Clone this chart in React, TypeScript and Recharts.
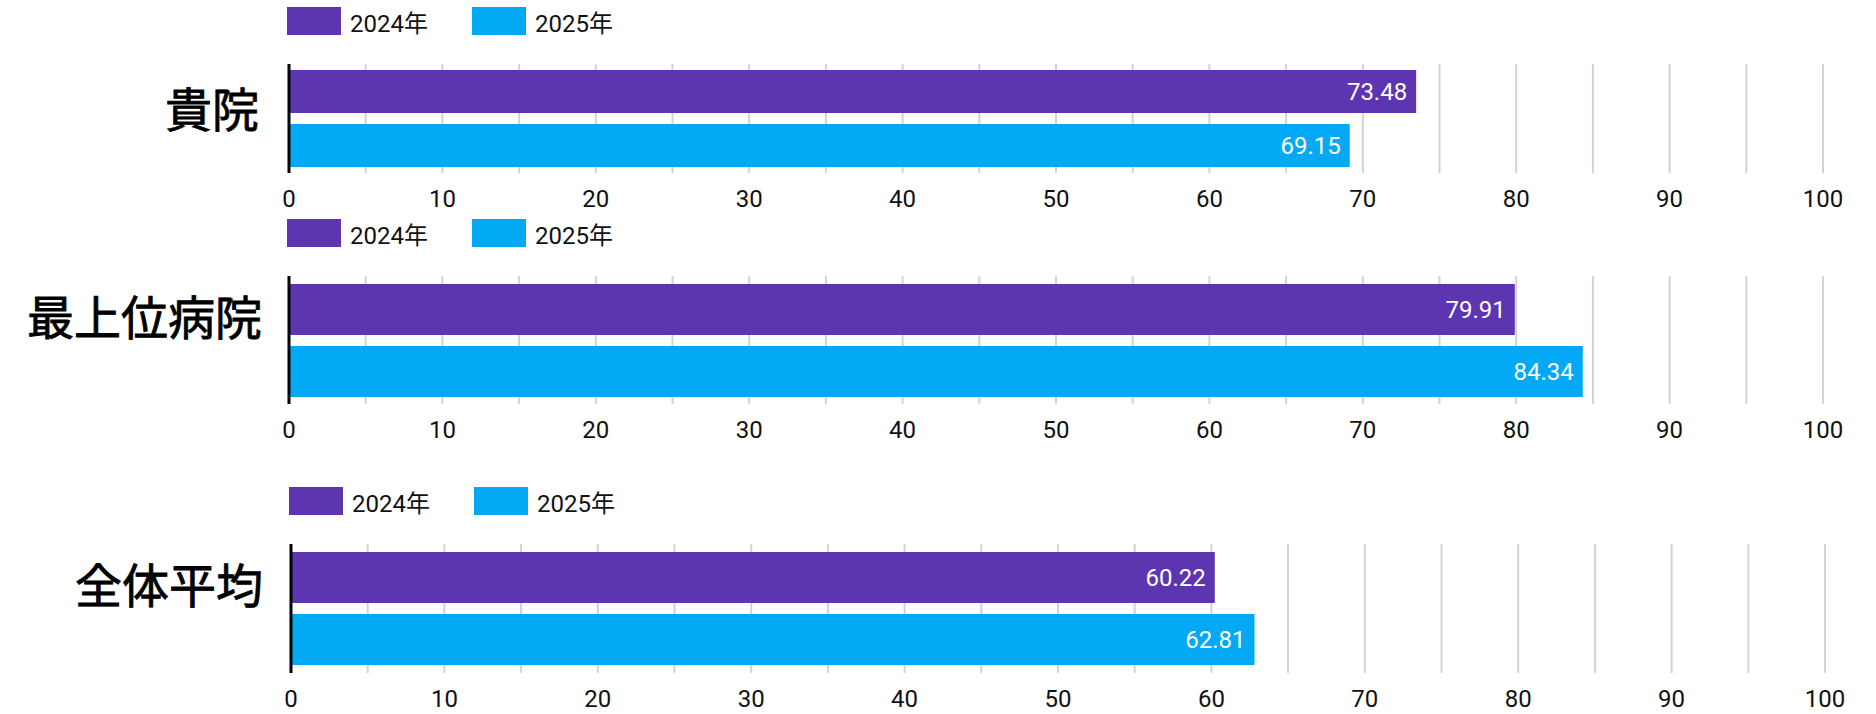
import { Bar, BarChart, CartesianGrid, LabelList, Legend, XAxis, YAxis } from "recharts";

const categories = ["貴院", "最上位病院", "全体平均"];
const values2024 = [73.48, 79.91, 60.22];
const values2025 = [69.15, 84.34, 62.81];
const seriesNames = ["2024年", "2025年"];
const xTicks = [0, 10, 20, 30, 40, 50, 60, 70, 80, 90, 100];
const gridValues = [5, 10, 15, 20, 25, 30, 35, 40, 45, 50, 55, 60, 65, 70, 75, 80, 85, 90, 95, 100];

const COLOR_2024 = "#5E35B1";
const COLOR_2025 = "#03A9F4";
const seriesColors = [COLOR_2024, COLOR_2025];
const FONT = "Roboto, 'Noto Sans CJK JP', sans-serif";

const PAGE_W = 1876;
const AXIS_X = 289; // x of the zero line inside each chart
const PLOT_RIGHT = 1823; // x of 100 inside each chart
const PLOT_TOP = 64;
const LEGEND_H = 28;
const XAXIS_H = 40;

type PanelLayout = {
  top: number;
  left: number;
  plotH: number;
  pad: number;
  labelDy: number;
  labelGap: number;
};

const panels: PanelLayout[] = [
  { top: 0, left: 0, plotH: 109, pad: 6, labelDy: -8, labelGap: 30 },
  { top: 212, left: 0, plotH: 128, pad: 8, labelDy: -22, labelGap: 27 },
  { top: 480, left: 2, plotH: 129, pad: 8, labelDy: -22, labelGap: 28 },
];

function YearLegend() {
  return (
    <div style={{ display: "flex", alignItems: "center", height: LEGEND_H, fontSize: 24, color: "#111" }}>
      {seriesNames.map((name, i) => (
        <div key={name} style={{ display: "flex", alignItems: "center", marginRight: 44 }}>
          <span style={{ display: "inline-block", width: 54, height: LEGEND_H, background: seriesColors[i], marginRight: 9 }} />
          <span>{name}</span>
        </div>
      ))}
    </div>
  );
}

// big category label left of the axis; a thin stroke gives it the medium weight of the original
const hospitalTick = (dy: number) => (props: any) => {
  const { x, y, payload } = props;
  return (
    <text
      x={x}
      y={y + dy}
      textAnchor="end"
      dominantBaseline="central"
      fontSize={47}
      fontWeight={400}
      fill="#000"
      stroke="#000"
      strokeWidth={0.8}
    >
      {payload.value}
    </text>
  );
};

function Panel({ index, layout }: { index: number; layout: PanelLayout }) {
  const width = PAGE_W - layout.left;
  const height = PLOT_TOP + layout.plotH + XAXIS_H;
  const data = [{ name: categories[index], y2024: values2024[index], y2025: values2025[index] }];

  return (
    <div style={{ position: "absolute", top: layout.top, left: layout.left }}>
      <BarChart
        width={width}
        height={height}
        data={data}
        layout="vertical"
        margin={{ top: PLOT_TOP - LEGEND_H, right: width - PLOT_RIGHT, left: 0, bottom: 0 }}
        barCategoryGap={layout.pad}
        barGap={11}
      >
        <CartesianGrid horizontal={false} verticalValues={gridValues} stroke="#d3d3d3" strokeWidth={2} />
        <Legend
          verticalAlign="top"
          align="left"
          content={<YearLegend />}
          wrapperStyle={{ top: 7, left: 287, width: 420, height: LEGEND_H }}
        />
        <XAxis
          type="number"
          domain={[0, 100]}
          ticks={xTicks}
          interval={0}
          tickLine={false}
          axisLine={false}
          tickSize={0}
          tickMargin={17}
          height={XAXIS_H}
          tick={{ fontSize: 24, fill: "#111" }}
        />
        <YAxis
          type="category"
          dataKey="name"
          width={AXIS_X}
          tickLine={false}
          tickSize={0}
          tickMargin={layout.labelGap}
          axisLine={{ stroke: "#000", strokeWidth: 3 }}
          tick={hospitalTick(layout.labelDy)}
        />
        <Bar dataKey="y2024" name={seriesNames[0]} fill={COLOR_2024} isAnimationActive={false}>
          <LabelList dataKey="y2024" position="insideRight" offset={9} fill="#fff" fontSize={24} />
        </Bar>
        <Bar dataKey="y2025" name={seriesNames[1]} fill={COLOR_2025} isAnimationActive={false}>
          <LabelList dataKey="y2025" position="insideRight" offset={9} fill="#fff" fontSize={24} />
        </Bar>
      </BarChart>
    </div>
  );
}

export default function App() {
  return (
    <div
      style={{
        position: "absolute",
        top: 0,
        left: 0,
        width: PAGE_W,
        height: 714,
        background: "#fff",
        fontFamily: FONT,
      }}
    >
      {panels.map((p, i) => (
        <Panel key={categories[i]} index={i} layout={p} />
      ))}
    </div>
  );
}
